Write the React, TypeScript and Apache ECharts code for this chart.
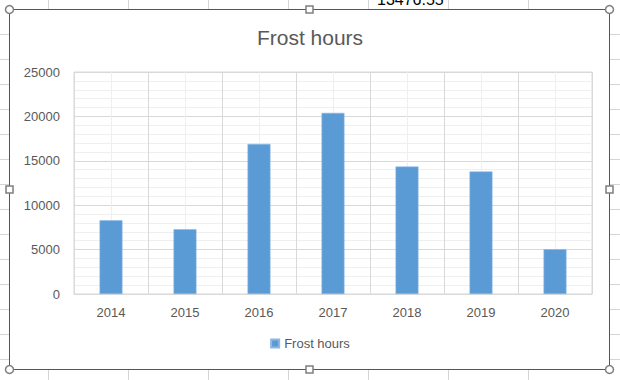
import React, { useEffect, useRef } from 'react';
import * as echarts from 'echarts';

const categories = ['2014', '2015', '2016', '2017', '2018', '2019', '2020'];
const frostHours = [8300, 7300, 16900, 20400, 14350, 13800, 5050];
const seriesName = 'Frost hours';
const chartTitle = 'Frost hours';
const yMin = 0;
const yMax = 25000;
const yInterval = 5000;
const cellValue = '13476.55';

const FONT = '"Liberation Sans", Arial, sans-serif';

export default function App() {
  const ref = useRef<HTMLDivElement>(null);

  useEffect(() => {
    if (!ref.current) return;
    const chart = echarts.init(ref.current, null, { renderer: 'svg' });
    const sheetLine = '#d4d4d4';
    const green = '#217346';
    const handle = '#7f7f7f';
    const graphics: any[] = [];

    // spreadsheet cell lines around the chart object
    for (let x = 48; x < 600; x += 80) {
      graphics.push({ type: 'line', silent: true, shape: { x1: x + 0.5, y1: 0, x2: x + 0.5, y2: 9 }, style: { stroke: sheetLine, lineWidth: 1 } });
      graphics.push({ type: 'line', silent: true, shape: { x1: x + 0.5, y1: 370, x2: x + 0.5, y2: 380 }, style: { stroke: sheetLine, lineWidth: 1 } });
    }
    for (let y = 34; y < 370; y += 25) {
      graphics.push({ type: 'line', silent: true, shape: { x1: 0, y1: y + 0.5, x2: 9, y2: y + 0.5 }, style: { stroke: sheetLine, lineWidth: 1 } });
      graphics.push({ type: 'line', silent: true, shape: { x1: 610, y1: y + 0.5, x2: 620, y2: y + 0.5 }, style: { stroke: sheetLine, lineWidth: 1 } });
    }
    graphics.push({
      type: 'text', silent: true, x: 377, y: -1,
      style: { text: cellValue, fontSize: 16, fontFamily: FONT, fill: '#000', verticalAlign: 'middle', align: 'left' },
    });
    // selection border
    graphics.push({
      type: 'rect', silent: true, z: 50,
      shape: { x: 9.5, y: 9.5, width: 600, height: 360 },
      style: { fill: 'none', stroke: green, lineWidth: 1 },
    });
    const corners = [[9.5, 9.5], [609.5, 9.5], [9.5, 369.5], [609.5, 369.5]];
    corners.forEach(([cx, cy]) => {
      graphics.push({ type: 'circle', silent: true, z: 60, shape: { cx, cy, r: 4 }, style: { fill: '#fff', stroke: handle, lineWidth: 1.5 } });
    });
    const mids = [[309.5, 9.5], [309.5, 369.5], [9.5, 189.5], [609.5, 189.5]];
    mids.forEach(([cx, cy]) => {
      graphics.push({ type: 'rect', silent: true, z: 60, shape: { x: cx - 3.5, y: cy - 3.5, width: 7, height: 7 }, style: { fill: '#fff', stroke: handle, lineWidth: 1.5 } });
    });

    chart.setOption({
      animation: false,
      backgroundColor: '#ffffff',
      textStyle: { fontFamily: FONT },
      title: {
        text: chartTitle,
        left: 'center',
        top: 22,
        textStyle: { fontSize: 21, fontWeight: 'normal', color: '#595959', fontFamily: FONT },
      },
      legend: {
        data: [seriesName],
        bottom: 25,
        left: 'center',
        itemWidth: 8,
        itemHeight: 8,
        icon: 'rect',
        textStyle: { fontSize: 13, color: '#595959', fontFamily: FONT },
      },
      grid: {
        left: 74,
        right: 28,
        top: 72,
        bottom: 86,
        show: true,
        borderColor: '#d9d9d9',
        borderWidth: 1,
        containLabel: false,
      },
      xAxis: [
        {
          type: 'category',
          data: categories,
          axisLine: { show: true, lineStyle: { color: '#d9d9d9' } },
          axisTick: { show: false },
          axisLabel: { color: '#595959', fontSize: 13, margin: 12, fontFamily: FONT },
          splitLine: { show: true, interval: 0, lineStyle: { color: '#d9d9d9' } },
        },
        {
          type: 'value',
          min: 0,
          max: categories.length,
          interval: 1,
          position: 'top',
          axisLine: { show: false },
          axisTick: { show: false },
          axisLabel: { show: false },
          splitLine: { show: false },
          minorTick: { show: false, splitNumber: 2 },
          minorSplitLine: { show: true, lineStyle: { color: '#efefef' } },
        },
      ],
      yAxis: {
        type: 'value',
        min: yMin,
        max: yMax,
        interval: yInterval,
        axisLine: { show: false },
        axisTick: { show: false },
        axisLabel: { color: '#595959', fontSize: 13, margin: 14, fontFamily: FONT, formatter: (v: number) => String(v) },
        splitLine: { show: true, lineStyle: { color: '#d9d9d9' } },
        minorTick: { show: false, splitNumber: 5 },
        minorSplitLine: { show: true, lineStyle: { color: '#efefef' } },
      },
      series: [
        {
          name: seriesName,
          type: 'bar',
          xAxisIndex: 0,
          data: frostHours,
          barWidth: '31%',
          itemStyle: { color: '#5B9BD5', borderColor: '#8db8e3', borderWidth: 0.6 },
        },
      ],
      graphic: graphics,
    });

    return () => chart.dispose();
  }, []);

  return <div ref={ref} style={{ position: 'fixed', left: 0, top: 0, width: 620, height: 380 }} />;
}
